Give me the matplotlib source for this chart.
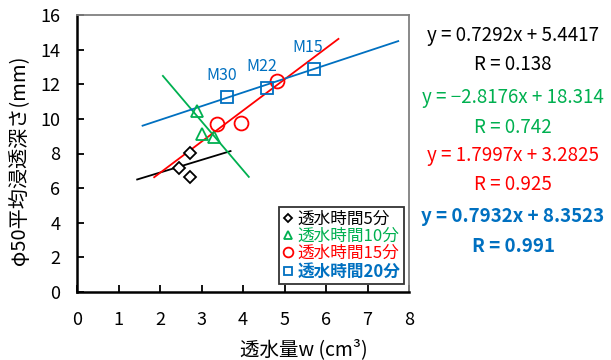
import matplotlib
matplotlib.use("Agg")
import matplotlib.pyplot as plt
import numpy as np

plt.rcParams['font.family'] = ['Noto Sans CJK JP', 'DejaVu Sans']

# Data
x5 = [2.46, 2.72, 2.72]
y5 = [7.18, 8.05, 6.63]
x10 = [2.89, 3.01, 3.30]
y10 = [10.46, 9.11, 8.97]
x15 = [3.38, 3.94, 4.81]
y15 = [9.69, 9.75, 12.19]
x20 = [3.62, 4.59, 5.70]
y20 = [11.27, 11.80, 12.90]
labels20 = ["M30", "M22", "M15"]

# Trend lines (slope, intercept, x range)
fit5 = (0.7292, 5.4417, 1.45, 3.70)
fit10 = (-2.8176, 18.314, 2.07, 4.14)
fit15 = (1.7997, 3.2825, 1.86, 6.30)
fit20 = (0.7932, 8.3523, 1.58, 7.74)

legend_labels = ["透水時間5分", "透水時間10分", "透水時間15分", "透水時間20分"]
eq_texts = [("y = 0.7292x + 5.4417", "R = 0.138"),
            ("y = \u22122.8176x + 18.314", "R = 0.742"),
            ("y = 1.7997x + 3.2825", "R = 0.925"),
            ("y = 0.7932x + 8.3523", "R = 0.991")]

c_black = "#000000"
c_green = "#00B050"
c_red = "#FF0000"
c_blue = "#0070C0"
colors = [c_black, c_green, c_red, c_blue]

fig = plt.figure(figsize=(6.11, 3.6), dpi=100)
ax = fig.add_axes([77/611, 68/360, (409-77)/611, (292-15)/360])

def fitline(f, c):
    m, b, x0, x1 = f
    xs = np.array([x0, x1])
    ax.plot(xs, m*xs + b, color=c, lw=1.3, zorder=2)

for f, c in zip([fit5, fit10, fit15, fit20], colors):
    fitline(f, c)

h1, = ax.plot(x5, y5, ls='none', marker='D', ms=6, mfc='white', mec=c_black, mew=1.3, zorder=3)
h2, = ax.plot(x10, y10, ls='none', marker='^', ms=9, mfc='none', mec=c_green, mew=1.3, zorder=3)
h3, = ax.plot(x15, y15, ls='none', marker='o', ms=10, mfc='none', mec=c_red, mew=1.3, zorder=3)
h4, = ax.plot(x20, y20, ls='none', marker='s', ms=9, mfc='none', mec=c_blue, mew=1.3, zorder=3)

for xv, yv, t in zip(x20, y20, labels20):
    ax.annotate(t, (xv, yv), xytext=(-4, 9), textcoords='offset points',
                ha='center', va='bottom', color=c_blue, fontsize=11.5)

ax.set_xlim(0, 8)
ax.set_ylim(0, 16)
ax.set_xticks(range(0, 9))
ax.set_yticks(range(0, 17, 2))
ax.tick_params(direction='in', length=5, width=1.3, labelsize=13)
ax.tick_params(axis='x', pad=14)
ax.tick_params(axis='y', pad=12)
for s in ['left', 'bottom']:
    ax.spines[s].set_color('black')
    ax.spines[s].set_linewidth(1.8)
for s in ['top', 'right']:
    ax.spines[s].set_color('#808080')
    ax.spines[s].set_linewidth(1.3)

ax.set_xlabel("透水量w (cm³)", fontsize=14)
ax.xaxis.set_label_coords((304-77)/332, (292-350)/277)
ax.xaxis.label.set_va('center')
ax.set_ylabel("φ50平均浸透深さ(mm)", fontsize=14.5)
ax.yaxis.set_label_coords((20-77)/332, (292-160)/277)
ax.yaxis.label.set_va('center')

leg = ax.legend([h1, h2, h3, h4], legend_labels, loc='lower right',
                bbox_to_anchor=(0.985, 0.03), fontsize=12, frameon=True,
                fancybox=False, edgecolor='black', handlelength=0.6,
                handletextpad=0.3, borderpad=0.2, labelspacing=0.02,
                borderaxespad=0, markerscale=0.7)
leg.get_frame().set_linewidth(1.3)
for t, c in zip(leg.get_texts(), colors):
    t.set_color(c)
leg.get_texts()[3].set_fontweight('bold')

ys = [(35, 65), (98, 127), (156, 185), (217, 247)]
for (eq, r), (y1, y2), c, i in zip(eq_texts, ys, colors, range(4)):
    w = 'bold' if i == 3 else 'normal'
    fig.text(513/611, 1 - y1/360, eq, ha='center', va='center', color=c, fontsize=13.5, fontweight=w)
    fig.text(513/611, 1 - y2/360, r, ha='center', va='center', color=c, fontsize=13.5, fontweight=w)

fig.savefig("out.png", dpi=100)
